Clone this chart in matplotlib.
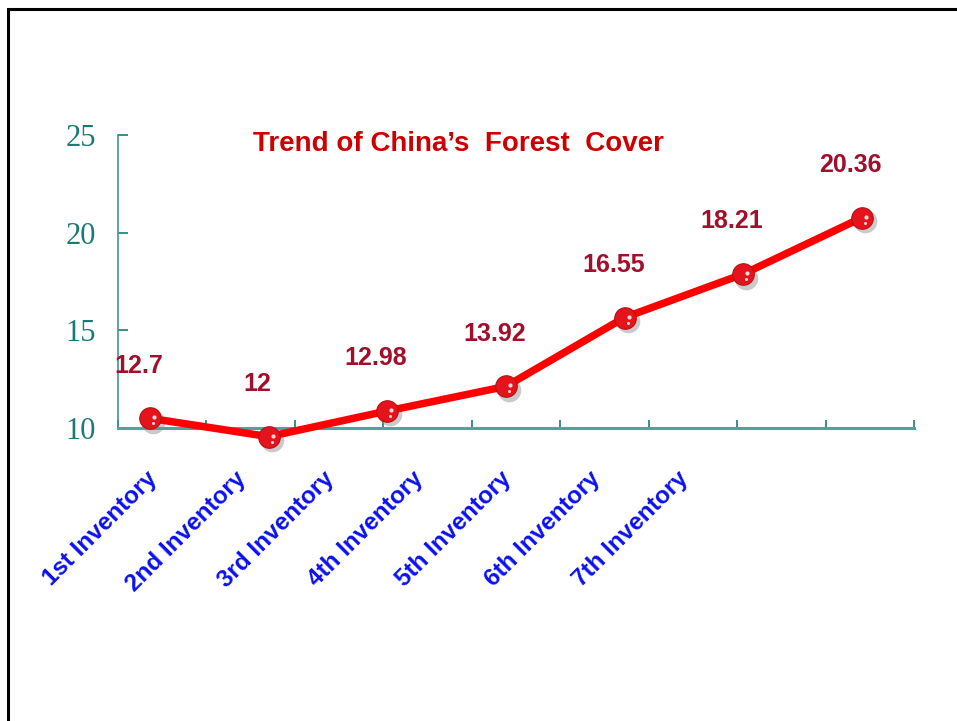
import matplotlib.pyplot as plt
import matplotlib.transforms as mtransforms
from matplotlib.patches import Rectangle

inventories = ['1st Inventory', '2nd Inventory', '3rd Inventory', '4th Inventory',
               '5th Inventory', '6th Inventory', '7th Inventory']
forest_cover = [12.7, 12, 12.98, 13.92, 16.55, 18.21, 20.36]
y_ticks = [10, 15, 20, 25]
n_slots = 9

teal = '#1b7a74'
fig = plt.figure(figsize=(9.57, 7.21), dpi=100)
fig.patch.set_facecolor('white')

# outer frame, open at right and bottom edges
fig.patches.append(Rectangle((8 / 957, -0.1), 1.2, 0.1 + 712 / 721, transform=fig.transFigure,
                             fill=False, edgecolor='black', linewidth=2.2))

rect = [118 / 957, 293 / 721, 796 / 957, 293 / 721]
ax = fig.add_axes(rect)
ax.set_xlim(0, n_slots)
ax.set_ylim(10, 25)
ax.set_facecolor('none')
for side in ['top', 'right']:
    ax.spines[side].set_visible(False)
ax.spines['left'].set_color('#3f9690')
ax.spines['left'].set_linewidth(1.2)
ax.spines['bottom'].set_color('#4fa39c')
ax.spines['bottom'].set_linewidth(2.2)

ax.set_yticks(y_ticks)
ax.set_yticklabels([str(t) for t in y_ticks], family='Liberation Serif', fontsize=22, color=teal)
ax.tick_params(axis='y', direction='in', length=7, width=1.2, color=teal, pad=16)

ax.set_xticks(range(n_slots + 1))
ax.set_xticklabels([])
ax.tick_params(axis='x', which='major', direction='in', length=6, width=1.2, color=teal)
ax.set_xticks([i + 0.5 for i in range(len(inventories))], minor=True)
ax.set_xticklabels(inventories, minor=True, rotation=45, ha='right', va='top',
                   family='Liberation Sans', fontweight='bold', fontsize=17.5, color='#0a10f0')
ax.tick_params(axis='x', which='minor', length=0, pad=28)

# the trend line sits on its own overlay axes
ax2 = fig.add_axes(rect)
ax2.set_xlim(-0.27, 6.44)
ax2.set_ylim(12.33, 23.52)
ax2.axis('off')
xs = list(range(len(forest_cover)))

shadow = mtransforms.offset_copy(ax2.transData, fig=fig, x=3, y=-3.5, units='dots')
ax2.plot(xs, forest_cover, 'o', markersize=17, color='#8a8a8a', alpha=0.45,
         markeredgewidth=0, transform=shadow, clip_on=False, zorder=2)
ax2.plot(xs, forest_cover, '-', color='#ff0000', linewidth=5.4, clip_on=False,
         solid_capstyle='round', zorder=3)
ax2.plot(xs, forest_cover, 'o', markersize=15.5, color='#e5141c', markeredgecolor='#b80f14',
         markeredgewidth=0.8, clip_on=False, zorder=4)
glint = mtransforms.offset_copy(ax2.transData, fig=fig, x=4, y=1, units='dots')
ax2.plot(xs, forest_cover, 'o', markersize=3, color='#ffd8d8', markeredgewidth=0,
         transform=glint, clip_on=False, zorder=5)
glint2 = mtransforms.offset_copy(ax2.transData, fig=fig, x=3, y=-5, units='dots')
ax2.plot(xs, forest_cover, 'o', markersize=2.2, color='#ffd8d8', markeredgewidth=0,
         transform=glint2, clip_on=False, zorder=5)

for x, v in zip(xs, forest_cover):
    ax2.annotate(f'{v:g}', (x, v), xytext=(-8, 38), textcoords='offset points',
                 ha='center', va='center', family='Liberation Sans', fontweight='bold',
                 fontsize=18, color='#a0102a', annotation_clip=False)

fig.text(458 / 957, 1 - 144 / 721, 'Trend of China\u2019s  Forest  Cover', ha='center', va='center',
         family='Liberation Sans', fontweight='bold', fontsize=20, color='#cc0000')

fig.savefig('out.png', dpi=100)
